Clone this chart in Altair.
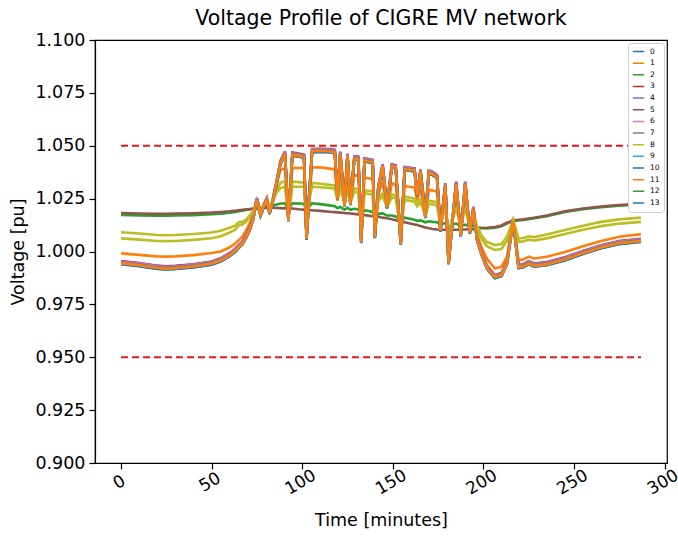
import altair as alt
import pandas as pd

# time keyframes (minutes)
TIME = [0, 10, 20, 25, 30, 40, 50, 55, 60, 63,
        65, 67, 69, 71, 73, 74, 75, 77, 79, 80.5,
        82, 83.5, 86, 88, 90.5, 92.4, 94.6, 98, 101, 102.4,
        104, 105.5, 110, 115, 118, 119.5, 121, 123.4, 125, 126.6,
        128.8, 131, 132.6, 134.4, 138.9, 140.1, 142, 144.4, 146.8, 149.5,
        151.6, 154.4, 156.6, 162, 163.5, 165.3, 168, 169.9, 172, 174.4,
        176.3, 179, 180.8, 183, 185, 187.5, 190, 192.5, 194.5, 196.5,
        199, 202, 206.3, 210, 213, 216.4, 219.4, 222, 225, 228,
        235, 245, 255, 265, 275, 287]

# far-feeder buses (lowest at night, highest at midday)
V_FAR = [0.9947, 0.9938, 0.9925, 0.9922, 0.9924, 0.9932, 0.9945, 0.9960, 0.9985, 1.0005,
         1.0023, 1.0040, 1.0070, 1.0105, 1.0160, 1.0205, 1.0245, 1.0175, 1.0220, 1.0245,
         1.0185, 1.0230, 1.0330, 1.0420, 1.0465, 1.0149, 1.0460, 1.0455, 1.0450, 1.0062,
         1.0280, 1.0477, 1.0478, 1.0476, 1.0472, 1.0250, 1.0464, 1.0220, 1.0455, 1.0228,
         1.0442, 1.0440, 1.0046, 1.0433, 1.0425, 1.0070, 1.0300, 1.0405, 1.0210, 1.0405,
         1.0400, 1.0039, 1.0392, 1.0385, 1.0267, 1.0380, 1.0165, 1.0375, 1.0368, 1.0354,
         1.0100, 1.0314, 0.9946, 1.0150, 1.0322, 1.0078, 1.0322, 1.0090, 1.0204, 1.0060,
         0.9990, 0.9925, 0.9881, 0.9890, 0.9945, 1.0149, 0.9928, 0.9932, 0.9946, 0.9935,
         0.9942, 0.9965, 0.9995, 1.0022, 1.0042, 1.0052]

V_BUS1 = [0.9991, 0.9984, 0.9977, 0.9976, 0.9977, 0.9983, 0.9993, 1.0000, 1.0020, 1.0038,
          1.0054, 1.0070, 1.0100, 1.0135, 1.0175, 1.0205, 1.0240, 1.0178, 1.0220, 1.0240,
          1.0190, 1.0228, 1.0320, 1.0385, 1.0395, 1.0160, 1.0395, 1.0395, 1.0396, 1.0085,
          1.0270, 1.0397, 1.0398, 1.0392, 1.0388, 1.0240, 1.0380, 1.0215, 1.0372, 1.0222,
          1.0362, 1.0358, 1.0075, 1.0350, 1.0342, 1.0090, 1.0270, 1.0330, 1.0205, 1.0322,
          1.0318, 1.0065, 1.0310, 1.0302, 1.0240, 1.0298, 1.0160, 1.0292, 1.0288, 1.0282,
          1.0105, 1.0270, 0.9990, 1.0150, 1.0262, 1.0095, 1.0260, 1.0100, 1.0190, 1.0080,
          1.0020, 0.9965, 0.9920, 0.9928, 0.9975, 1.0149, 0.9959, 0.9962, 0.9976, 0.9967,
          0.9975, 0.9998, 1.0025, 1.0050, 1.0070, 1.0082]

V_BUS8 = [1.0091, 1.0085, 1.0078, 1.0077, 1.0078, 1.0083, 1.0090, 1.0098, 1.0112, 1.0122,
          1.0138, 1.0140, 1.0150, 1.0170, 1.0192, 1.0210, 1.0230, 1.0190, 1.0225, 1.0238,
          1.0200, 1.0240, 1.0290, 1.0325, 1.0332, 1.0175, 1.0330, 1.0328, 1.0326, 1.0135,
          1.0260, 1.0324, 1.0320, 1.0315, 1.0312, 1.0250, 1.0308, 1.0240, 1.0303, 1.0240,
          1.0298, 1.0295, 1.0120, 1.0290, 1.0284, 1.0125, 1.0250, 1.0276, 1.0220, 1.0270,
          1.0267, 1.0110, 1.0260, 1.0250, 1.0225, 1.0246, 1.0180, 1.0240, 1.0237, 1.0233,
          1.0140, 1.0225, 1.0080, 1.0165, 1.0220, 1.0130, 1.0218, 1.0130, 1.0180, 1.0120,
          1.0075, 1.0045, 1.0030, 1.0035, 1.0070, 1.0149, 1.0062, 1.0064, 1.0072, 1.0068,
          1.0080, 1.0102, 1.0122, 1.0140, 1.0152, 1.0160]

V_BUS12 = [1.0062, 1.0056, 1.0050, 1.0049, 1.0050, 1.0055, 1.0063, 1.0072, 1.0090, 1.0103,
           1.0123, 1.0127, 1.0140, 1.0162, 1.0188, 1.0210, 1.0228, 1.0188, 1.0222, 1.0235,
           1.0198, 1.0235, 1.0280, 1.0300, 1.0306, 1.0170, 1.0306, 1.0306, 1.0306, 1.0120,
           1.0250, 1.0306, 1.0304, 1.0300, 1.0297, 1.0240, 1.0293, 1.0232, 1.0288, 1.0230,
           1.0283, 1.0280, 1.0108, 1.0275, 1.0269, 1.0112, 1.0240, 1.0261, 1.0212, 1.0255,
           1.0252, 1.0098, 1.0245, 1.0235, 1.0214, 1.0231, 1.0170, 1.0225, 1.0222, 1.0218,
           1.0130, 1.0208, 1.0060, 1.0155, 1.0203, 1.0120, 1.0200, 1.0120, 1.0170, 1.0110,
           1.0060, 1.0025, 1.0007, 1.0012, 1.0050, 1.0149, 1.0046, 1.0048, 1.0056, 1.0052,
           1.0062, 1.0083, 1.0103, 1.0120, 1.0132, 1.0140]

V_BUS2 = [1.0173, 1.0171, 1.0169, 1.0169, 1.0170, 1.0172, 1.0176, 1.0179, 1.0183, 1.0187,
          1.0190, 1.0193, 1.0196, 1.0199, 1.0202, 1.0205, 1.0210, 1.0205, 1.0210, 1.0214,
          1.0212, 1.0216, 1.0222, 1.0227, 1.0228, 1.0200, 1.0228, 1.0227, 1.0226, 1.0190,
          1.0215, 1.0228, 1.0224, 1.0218, 1.0214, 1.0205, 1.0211, 1.0198, 1.0207, 1.0197,
          1.0202, 1.0199, 1.0172, 1.0195, 1.0187, 1.0165, 1.0178, 1.0180, 1.0170, 1.0170,
          1.0166, 1.0145, 1.0160, 1.0150, 1.0145, 1.0147, 1.0138, 1.0143, 1.0140, 1.0138,
          1.0128, 1.0135, 1.0115, 1.0128, 1.0132, 1.0120, 1.0127, 1.0117, 1.0121, 1.0113,
          1.0112, 1.0109, 1.0112, 1.0119, 1.0132, 1.0145, 1.0147, 1.0149, 1.0153, 1.0157,
          1.0167, 1.0187, 1.0200, 1.0210, 1.0217, 1.0223]

V_BUS5 = [1.0182, 1.0180, 1.0178, 1.0178, 1.0179, 1.0181, 1.0184, 1.0187, 1.0190, 1.0193,
          1.0195, 1.0197, 1.0199, 1.0201, 1.0203, 1.0204, 1.0206, 1.0205, 1.0206, 1.0207,
          1.0207, 1.0207, 1.0206, 1.0205, 1.0204, 1.0203, 1.0203, 1.0200, 1.0198, 1.0197,
          1.0196, 1.0195, 1.0192, 1.0188, 1.0186, 1.0185, 1.0184, 1.0182, 1.0181, 1.0180,
          1.0178, 1.0175, 1.0174, 1.0172, 1.0167, 1.0166, 1.0164, 1.0160, 1.0157, 1.0152,
          1.0148, 1.0143, 1.0138, 1.0128, 1.0125, 1.0120, 1.0114, 1.0110, 1.0106, 1.0104,
          1.0103, 1.0103, 1.0103, 1.0103, 1.0103, 1.0103, 1.0104, 1.0105, 1.0106, 1.0108,
          1.0110, 1.0112, 1.0116, 1.0123, 1.0136, 1.0147, 1.0150, 1.0152, 1.0156, 1.0160,
          1.0170, 1.0190, 1.0203, 1.0213, 1.0220, 1.0226]

BUSES = [str(i) for i in range(14)]
COLORS = ["#1f77b4", "#ff7f0e", "#2ca02c", "#d62728", "#9467bd", "#8c564b", "#e377c2",
          "#7f7f7f", "#bcbd22", "#17becf", "#1f77b4", "#ff7f0e", "#2ca02c", "#1f77b4"]
# the reference draws the bus-12 curve in olive although its legend swatch is green
BUS12_LINE_COLOR = "#bcbd22"

# which profile each bus follows, and its small separation inside the far-feeder bundle
BUS_SERIES = {0: V_FAR, 1: V_BUS1, 2: V_BUS2, 3: V_FAR, 4: V_FAR, 5: V_BUS5, 6: V_FAR,
              7: V_FAR, 8: V_BUS8, 9: V_FAR, 10: V_FAR, 11: V_FAR, 12: V_BUS12, 13: V_FAR}
BUNDLE_SHIFT = {0: 0.0, 3: 0.0008, 4: 0.0006, 6: 0.0004, 7: 0.0002, 9: -0.0006,
                10: -0.0007, 11: -0.0003, 13: -0.0005}

DRAW_ORDER = [0, 1, 2, 3, 4, 5, 6, 7, 8, 9, 10, 12, 13, 11]

LIMITS = [1.05, 0.95]

for s in BUS_SERIES.values():
    assert len(s) == len(TIME), len(s)

rows = []
for b in DRAW_ORDER:
    vals = BUS_SERIES[b]
    sh = BUNDLE_SHIFT.get(b, 0.0)
    for t, v in zip(TIME, vals):
        rows.append({"bus": str(b), "t": t, "v": v + sh})
df = pd.DataFrame(rows)

lim_df = pd.DataFrame({"t": [0, 0], "t2": [287, 287], "v": LIMITS})

FONT = "DejaVu Sans"

xscale = alt.Scale(domain=[-14.35, 301.35], nice=False, zero=False)
yscale = alt.Scale(domain=[0.9, 1.1], nice=False, zero=False)

xaxis = alt.Axis(title="Time [minutes]", values=[0, 50, 100, 150, 200, 250, 300],
                 labelAngle=330, labelAlign="center", labelBaseline="middle",
                 labelPadding=13, labelOffset=-2, tickSize=6, grid=False,
                 labelFontSize=17, titleFontSize=17.5, titlePadding=14,
                 titleFontWeight="normal")
yaxis = alt.Axis(title="Voltage [pu]", values=[0.9 + 0.025 * i for i in range(9)],
                 format=".3f", tickSize=6, grid=False, labelFontSize=17.5,
                 labelPadding=4, titleFontSize=17.5, titlePadding=7,
                 titleFontWeight="normal")

color_enc = alt.condition(
    "datum.bus == '12'",
    alt.value(BUS12_LINE_COLOR),
    alt.Color("bus:N", sort=BUSES,
              scale=alt.Scale(domain=BUSES, range=COLORS),
              legend=alt.Legend(title=None, orient="top-right", offset=3, padding=4,
                                fillColor="white", strokeColor="#cccccc",
                                cornerRadius=3, labelFontSize=7.5, labelFont=FONT,
                                symbolType="stroke", symbolSize=130,
                                symbolStrokeWidth=1.5, rowPadding=2.65,
                                clipHeight=9, labelOffset=5)),
)

lines = alt.Chart(df).mark_line(strokeWidth=2.6, clip=True).encode(
    x=alt.X("t:Q", scale=xscale, axis=xaxis),
    y=alt.Y("v:Q", scale=yscale, axis=yaxis),
    color=color_enc,
)

limits = alt.Chart(lim_df).mark_rule(color="#e41a1c", strokeWidth=2,
                                      strokeDash=[7, 4]).encode(
    x=alt.X("t:Q", scale=xscale, axis=xaxis),
    x2="t2:Q",
    y=alt.Y("v:Q", scale=yscale, axis=yaxis),
)

chart = alt.layer(lines, limits).properties(
    width=572, height=423,
    title=alt.TitleParams("Voltage Profile of CIGRE MV network", fontSize=20.5,
                          font=FONT, fontWeight="normal", color="black",
                          anchor="middle", offset=2, frame="group"),
    padding={"left": 95, "top": 40, "right": 11, "bottom": 76},
    autosize="none",
    background="white",
).configure_view(stroke="black", strokeWidth=1.2).configure_axis(
    domainColor="black", tickColor="black", labelColor="black", titleColor="black",
    labelFont=FONT, titleFont=FONT, domainWidth=1.2, tickWidth=1.2,
)

chart.save("out.html", embed_options={"renderer": "svg", "actions": False})
